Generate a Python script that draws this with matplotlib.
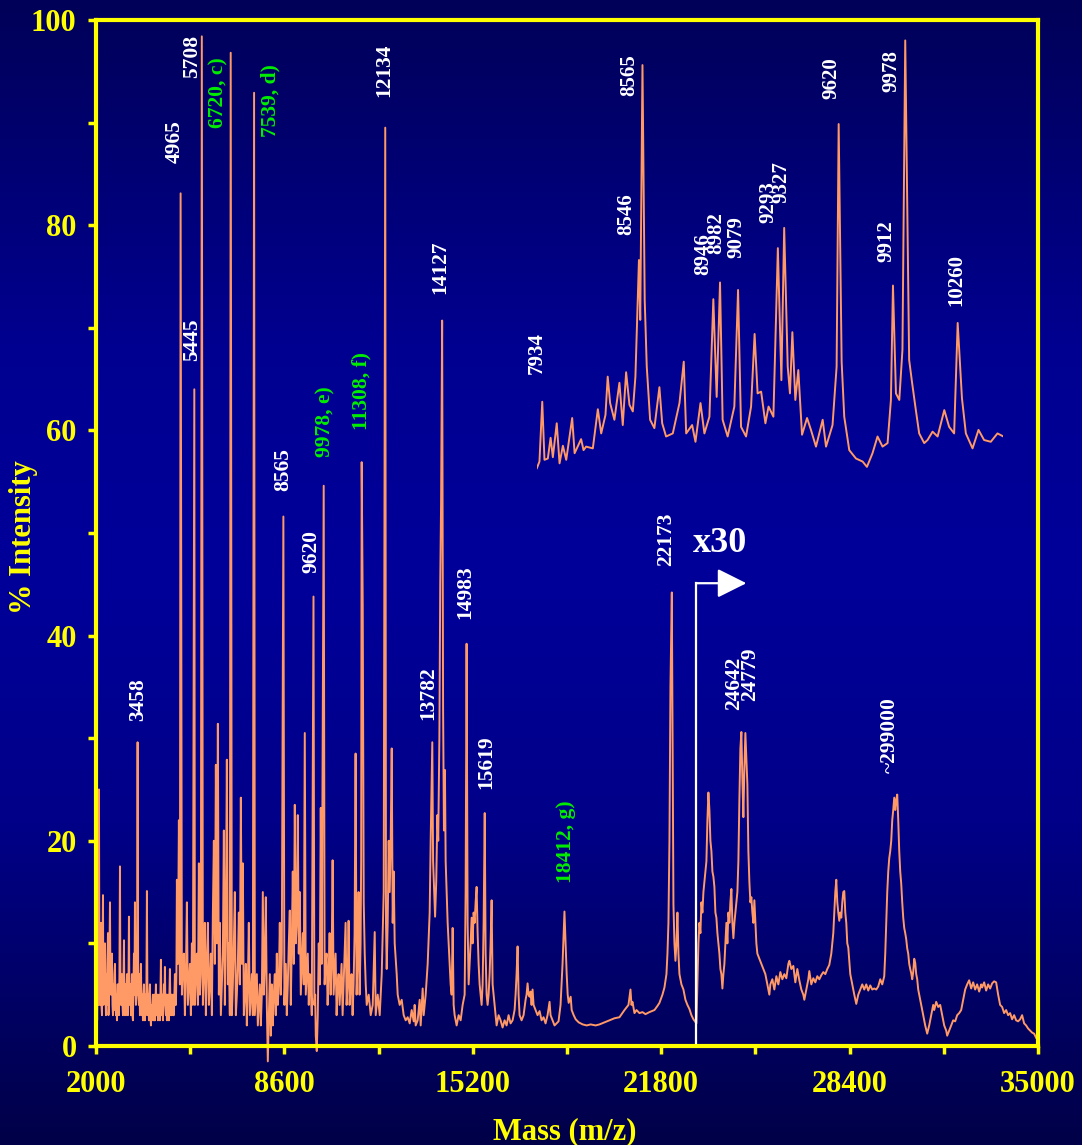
import numpy as np
import matplotlib
matplotlib.use("Agg")
import matplotlib.pyplot as plt
from matplotlib.colors import LinearSegmentedColormap

matplotlib.rc('font', family='Liberation Serif', weight='bold')

# ---- spectrum: (mass m/z, % intensity) ----
low_trace = [
    (2000, 3.5), (2020, 7), (2040, 2.5), (2055, 6), (2070, 9), (2090, 4), (2105, 25), (2120, 6),
    (2140, 4), (2158, 8), (2175, 12), (2192, 4), (2210, 3), (2228, 9), (2245, 14.7), (2262, 4),
    (2280, 5), (2298, 8), (2315, 10), (2332, 5), (2350, 3), (2368, 7), (2385, 4), (2402, 8),
    (2420, 11), (2438, 3), (2455, 4), (2472, 9), (2490, 14), (2508, 6), (2525, 5), (2542, 7),
    (2560, 9), (2578, 4), (2595, 3), (2612, 6), (2630, 3.5), (2648, 7), (2665, 8), (2682, 4),
    (2700, 3), (2718, 5), (2735, 2.5), (2752, 6), (2770, 6), (2788, 4), (2805, 3), (2822, 7),
    (2840, 17.5), (2858, 5), (2875, 4), (2892, 6), (2910, 7), (2928, 4), (2945, 3), (2962, 6),
    (2980, 10.3), (2998, 4), (3015, 3), (3032, 6), (3050, 3), (3068, 5), (3085, 7), (3102, 4),
    (3120, 3), (3138, 6), (3155, 12.6), (3172, 5), (3190, 4), (3208, 6), (3225, 3), (3242, 5),
    (3260, 7), (3278, 3), (3295, 2.5), (3312, 6), (3330, 9), (3348, 5), (3365, 14), (3382, 6),
    (3400, 4), (3418, 6), (3435, 5), (3458, 29.6), (3480, 5), (3505, 4), (3522, 7), (3540, 3),
    (3558, 6), (3575, 8), (3592, 4), (3610, 3), (3628, 5), (3645, 2.5), (3662, 5), (3680, 6),
    (3698, 3), (3715, 2.5), (3732, 5), (3750, 3), (3768, 6), (3785, 15.1), (3802, 5), (3820, 3),
    (3838, 5), (3855, 2.5), (3872, 5), (3890, 6), (3908, 3), (3925, 2), (3942, 4), (3960, 2.5),
    (3978, 4), (3995, 5), (4012, 3), (4030, 2.5), (4048, 5), (4065, 2.5), (4082, 4), (4100, 6),
    (4118, 3), (4135, 3), (4152, 5), (4170, 2.5), (4188, 4), (4205, 5), (4222, 3), (4240, 2.5),
    (4258, 5), (4275, 8.4), (4292, 4), (4310, 3), (4328, 5), (4345, 2.5), (4362, 4), (4380, 6),
    (4398, 4), (4415, 7.7), (4432, 4), (4450, 3), (4468, 5), (4485, 2.5), (4502, 4), (4520, 5),
    (4538, 3), (4555, 2.5), (4572, 5), (4590, 7.5), (4608, 4), (4625, 3), (4642, 5), (4660, 3),
    (4678, 4), (4695, 5), (4712, 3), (4730, 3), (4748, 5), (4765, 7), (4782, 4), (4800, 4),
    (4818, 7), (4835, 16.2), (4870, 8), (4905, 22), (4940, 6), (4965, 83.1), (5010, 5), (5045, 8),
    (5080, 9), (5115, 3), (5150, 7), (5185, 14), (5220, 4), (5255, 6), (5290, 8), (5325, 3),
    (5360, 10), (5395, 4), (5445, 64), (5465, 4), (5500, 7), (5535, 9), (5570, 4), (5605, 17.8),
    (5640, 5), (5675, 7), (5708, 98.4), (5745, 4), (5780, 7), (5815, 12), (5850, 3), (5885, 8),
    (5920, 12), (5955, 4), (5990, 6), (6025, 9), (6060, 3), (6095, 13), (6130, 20), (6165, 8),
    (6200, 27.4), (6235, 10), (6270, 31.4), (6305, 5), (6340, 12), (6375, 3), (6410, 6), (6445, 9),
    (6480, 21), (6515, 4), (6550, 12), (6585, 27.9), (6620, 6), (6655, 10), (6690, 3),
    (6720, 96.8), (6760, 3), (6795, 6), (6830, 10), (6865, 15), (6900, 3), (6935, 5), (6970, 8),
    (7005, 13), (7040, 6), (7075, 24.2), (7110, 8), (7145, 17.8), (7180, 3), (7215, 5), (7250, 8),
    (7285, 2), (7320, 6), (7355, 12), (7390, 3), (7425, 5), (7460, 7), (7495, 3), (7539, 92.9),
    (7565, 3), (7600, 5), (7635, 7), (7670, 2), (7705, 4), (7740, 6), (7775, 2), (7810, 5),
    (7845, 15), (7880, 5), (7915, 8), (7950, 14.5), (7985, 4), (8020, -1.5), (8055, 3), (8090, 7),
    (8125, 1), (8160, 6), (8195, 2), (8230, 5), (8265, 7), (8300, 3), (8335, 9), (8370, 4),
    (8405, 6), (8440, 12), (8475, 5), (8510, 9), (8565, 51.6), (8600, 4), (8650, 8), (8685, 3),
    (8720, 6), (8755, 10), (8790, 13.2), (8825, 4), (8860, 10), (8895, 17), (8930, 8), (8965, 23.5),
]

mid_trace = [
    (9000, 10), (9035, 12), (9070, 22.5), (9105, 9), (9140, 15), (9175, 5), (9210, 8), (9245, 11),
    (9280, 6), (9315, 30.5), (9350, 5), (9385, 7), (9420, 9), (9455, 4), (9490, 7), (9525, 6),
    (9560, 3), (9620, 43.8), (9650, 4), (9680, 5), (9700, 1), (9735, -0.5), (9770, 3), (9805, 10),
    (9840, 6), (9875, 23.2), (9910, 8), (9978, 54.6), (10010, 6), (10045, 8), (10080, 9),
    (10115, 4), (10150, 7), (10185, 11), (10220, 5), (10255, 8), (10290, 18.1), (10325, 5),
    (10360, 7), (10395, 9), (10430, 3), (10465, 6), (10500, 7), (10535, 4), (10570, 6), (10605, 8),
    (10640, 3), (10675, 6), (10710, 9), (10745, 12), (10780, 4), (10815, 6), (10850, 12.2),
    (10885, 4), (10920, 6), (10955, 7), (10990, 3), (11025, 6), (11060, 11), (11095, 28.5),
    (11130, 5), (11165, 8), (11200, 15), (11235, 5), (11270, 10), (11290, 18), (11308, 56.9),
    (11345, 43), (11380, 14), (11415, 9), (11450, 6), (11485, 4), (11555, 5), (11625, 3),
    (11695, 4), (11765, 11.1), (11800, 3), (11870, 5), (11940, 3), (12010, 7), (12080, 15),
    (12134, 89.5), (12160, 12), (12185, 7.5), (12220, 12), (12255, 20), (12290, 15), (12325, 20),
    (12360, 29), (12395, 12), (12430, 17), (12465, 10), (12535, 7), (12570, 5), (12640, 4),
    (12710, 4.5), (12780, 3), (12850, 2.5), (12920, 2.8), (12990, 2.2), (13060, 3.5), (13130, 2.4),
    (13165, 4), (13200, 2), (13270, 2.5), (13340, 4.5), (13375, 2), (13445, 5.6), (13480, 3),
    (13550, 5), (13620, 8), (13690, 13), (13725, 20), (13782, 29.6), (13810, 18), (13850, 15),
    (13880, 12.6), (13920, 16), (13960, 22.5), (13990, 20), (14030, 30), (14060, 45), (14090, 53),
    (14127, 70.7), (14160, 33), (14190, 21), (14225, 26.9), (14250, 18), (14285, 15), (14320, 12),
    (14355, 10), (14390, 8), (14425, 6), (14460, 5), (14495, 11.5), (14530, 4), (14565, 3),
    (14635, 2), (14705, 3), (14775, 2.5), (14845, 4), (14915, 5), (14950, 15), (14983, 39.2),
    (15020, 12), (15055, 6), (15090, 8), (15125, 10), (15160, 12.5), (15195, 10), (15230, 13),
    (15265, 12), (15300, 14), (15335, 15.5), (15370, 11), (15405, 8), (15440, 6), (15475, 5),
    (15510, 4), (15545, 6), (15580, 12), (15619, 22.7), (15650, 9), (15685, 5), (15720, 4),
    (15755, 5), (15790, 7), (15825, 10), (15860, 14.2), (15895, 6), (15930, 5), (15965, 4),
]

high_trace = [
    (16035, 2), (16105, 3), (16175, 2.5), (16245, 1.8), (16315, 2.5), (16385, 2), (16455, 3),
    (16525, 2.2), (16595, 2.5), (16665, 3.5), (16700, 5), (16735, 7), (16770, 9.7), (16805, 5),
    (16840, 3), (16910, 2.5), (16980, 3), (17050, 4.5), (17085, 5), (17120, 6.1), (17155, 5),
    (17190, 4.8), (17225, 5.3), (17260, 4), (17295, 5.5), (17330, 4), (17400, 3.5), (17470, 3),
    (17540, 3.4), (17610, 2.5), (17680, 2.8), (17750, 2.2), (17820, 3), (17890, 4.3), (17925, 3),
    (17995, 2.5), (18065, 2), (18135, 2.2), (18205, 2.4), (18275, 4), (18345, 8), (18412, 13.1),
    (18450, 10), (18490, 7), (18525, 5), (18560, 4.2), (18630, 4.8), (18665, 3.5), (18735, 3),
    (18805, 2.6), (18910, 2.3), (19050, 2.1), (19190, 2), (19330, 2.1), (19505, 2.0), (19640, 2.1),
    (19815, 2.3), (19990, 2.5), (20165, 2.7), (20340, 2.8), (20515, 3.5), (20655, 4), (20725, 5.5),
    (20760, 4), (20795, 4.3), (20865, 3.2), (20935, 3.5), (21040, 3.2), (21145, 3.3), (21250, 3.1),
    (21390, 3.3), (21565, 3.5), (21670, 3.9), (21740, 4.2), (21845, 5), (21915, 5.7), (21985, 7),
    (22020, 9), (22055, 12), (22090, 20), (22125, 35), (22173, 44.2), (22200, 30), (22230, 13.8),
    (22265, 10), (22300, 8.3), (22335, 10), (22370, 13), (22405, 9), (22440, 7), (22510, 6),
    (22580, 5.5), (22650, 4.5), (22720, 4), (22790, 3.6), (22860, 3), (22930, 2.6), (23035, 2.2),
]

# region shown magnified x30
scaled_trace = [
    (23105, 10), (23140, 12), (23175, 11), (23210, 14), (23245, 13), (23280, 15), (23315, 16),
    (23350, 17), (23385, 18), (23420, 22), (23455, 24.7), (23490, 23), (23525, 20), (23560, 19),
    (23595, 17), (23630, 16.5), (23665, 15.5), (23700, 13), (23735, 12.5), (23770, 11), (23805, 10),
    (23840, 9), (23875, 7.5), (23910, 7), (23945, 5.6), (23980, 7), (24015, 8), (24050, 10),
    (24085, 12), (24120, 10), (24155, 13), (24190, 12), (24225, 14), (24260, 15.3), (24295, 12),
    (24330, 10.5), (24365, 12), (24400, 13), (24435, 14), (24470, 15), (24505, 18), (24540, 24),
    (24575, 29), (24610, 30.6), (24645, 26), (24680, 22.3), (24715, 27), (24750, 30.5), (24785, 28),
    (24820, 25.5), (24855, 19), (24890, 16), (24925, 14), (24960, 14.5), (24995, 13), (25030, 12),
    (25065, 14.2), (25100, 12), (25135, 10), (25170, 9), (25240, 8.5), (25310, 8), (25380, 7.5),
    (25450, 7), (25520, 6), (25590, 5), (25625, 6), (25695, 6.5), (25765, 5.5), (25835, 6.8),
    (25905, 6), (25975, 7.2), (26045, 6.5), (26115, 7), (26185, 6.6), (26255, 8), (26290, 8.3),
    (26360, 7.5), (26430, 7.8), (26500, 6.2), (26570, 7.5), (26640, 6.4), (26710, 5.5), (26780, 5),
    (26815, 4.5), (26885, 5.5), (26955, 6.5), (26990, 7.3), (27060, 6), (27130, 6.6), (27200, 6.2),
    (27270, 6.8), (27340, 6.5), (27410, 6.9), (27480, 7.2), (27550, 7), (27620, 7.5), (27690, 7.9),
    (27760, 9), (27830, 11), (27865, 13), (27900, 15), (27935, 16.2), (27970, 14), (28005, 13),
    (28040, 12.2), (28075, 13), (28110, 12.5), (28145, 14), (28180, 15), (28215, 15.1), (28250, 13),
    (28285, 12), (28320, 10), (28355, 9.6), (28425, 7), (28495, 6), (28565, 5), (28635, 4.1),
    (28705, 5), (28775, 5.5), (28845, 6), (28915, 5.5), (28985, 6), (29055, 5.4), (29125, 5.9),
    (29195, 5.5), (29265, 5.6), (29335, 5.5), (29405, 5.8), (29475, 6.5), (29545, 6), (29615, 6.8),
    (29650, 9), (29685, 12), (29720, 15), (29755, 17), (29790, 18.3), (29825, 19), (29860, 20),
    (29895, 22), (29930, 23), (29965, 24.2), (30000, 23), (30035, 24), (30070, 24.5), (30105, 22),
    (30140, 19), (30175, 17), (30210, 15.8), (30245, 14), (30280, 12.5), (30315, 11.5), (30350, 11),
    (30385, 10.4), (30420, 9.5), (30455, 9), (30490, 8), (30525, 7.5), (30560, 7.1), (30595, 6.5),
    (30630, 7.2), (30665, 8.5), (30700, 8.1), (30735, 7), (30770, 6.5), (30805, 5.5), (30840, 5),
    (30910, 4), (30980, 3), (31050, 2), (31120, 1.2), (31190, 2), (31260, 3), (31330, 4),
    (31365, 3.5), (31435, 4.3), (31505, 3.8), (31575, 4), (31645, 3), (31715, 2), (31785, 1.5),
    (31820, 1), (31890, 1.5), (31960, 2), (32030, 2.5), (32100, 2.4), (32170, 3), (32240, 3.2),
    (32310, 3.5), (32380, 4.5), (32450, 5.5), (32520, 6), (32590, 6.4), (32660, 5.6), (32730, 6.2),
    (32800, 5.5), (32870, 6), (32940, 5.3), (33010, 6), (33045, 5.7), (33115, 6.2), (33185, 5.4),
    (33255, 6), (33325, 5.6), (33395, 6.1), (33465, 6.3), (33535, 6.2), (33605, 5), (33675, 4),
    (33745, 3.8), (33815, 3.2), (33885, 3.5), (33955, 3), (34025, 3.2), (34095, 2.6), (34165, 3),
    (34235, 2.5), (34305, 2.4), (34375, 2.6), (34445, 3), (34515, 2.2), (34585, 2), (34655, 1.7),
    (34725, 1.5), (34795, 1.3), (34865, 1.2), (34935, 0.8),
]

# inset: 7900-10500 region enlarged (relative intensity 0-100)
inset_trace = [
    (7997, 0.4), (8011, 1.9), (8026, 15.5), (8038, 2.3), (8056, 2.6), (8071, 7.3), (8083, 2.9),
    (8104, 10.6), (8119, 1.5), (8137, 5.5), (8155, 2.3), (8187, 11.8), (8200, 3.8), (8235, 7.0),
    (8248, 4.5), (8262, 5.3), (8298, 4.9), (8325, 13.8), (8343, 8.3), (8366, 12.5), (8378, 21.2),
    (8391, 15.2), (8414, 11.4), (8441, 19.8), (8459, 10.2), (8477, 22.2), (8495, 14.8), (8513, 13.3),
    (8527, 21.2), (8546, 47.7), (8553, 34.1), (8565, 92.0), (8577, 38.6), (8588, 23.5), (8606, 11.4),
    (8629, 9.5), (8656, 18.8), (8671, 10.6), (8692, 7.6), (8728, 8.3), (8764, 15.2), (8787, 24.6),
    (8800, 8.3), (8832, 10.2), (8850, 6.4), (8877, 15.2), (8898, 8.3), (8925, 12.1), (8946, 38.8),
    (8964, 16.6), (8982, 42.6), (8996, 11.4), (9023, 7.6), (9059, 14.4), (9079, 40.9), (9095, 9.8),
    (9122, 7.6), (9149, 14.4), (9168, 30.9), (9184, 17.4), (9203, 17.8), (9226, 10.6), (9243, 14.4),
    (9269, 12.1), (9293, 50.4), (9312, 20.4), (9327, 55.0), (9346, 23.5), (9358, 17.4), (9371, 31.3),
    (9387, 15.9), (9403, 22.7), (9423, 8.0), (9450, 11.8), (9471, 9.1), (9498, 5.3), (9534, 11.4),
    (9552, 5.3), (9587, 10.2), (9609, 23.5), (9620, 78.6), (9636, 24.6), (9650, 12.1), (9677, 4.5),
    (9713, 2.6), (9749, 1.9), (9772, 0.7), (9802, 3.8), (9829, 7.6), (9856, 5.3), (9883, 6.1),
    (9901, 15.9), (9912, 41.9), (9928, 17.4), (9946, 15.9), (9963, 27.3), (9978, 97.6), (9999, 25.0),
    (10014, 20.1), (10035, 13.6), (10053, 8.3), (10080, 6.1), (10098, 6.8), (10125, 8.7), (10152, 7.6),
    (10188, 13.6), (10214, 9.8), (10241, 8.3), (10260, 33.4), (10283, 16.3), (10304, 8.3),
    (10340, 4.9), (10372, 9.1), (10402, 6.8), (10438, 6.4), (10474, 8.3), (10506, 7.6),
]

# peak annotations: text, anchor mass, anchor intensity, assigned (green) or not
main_labels = ["3458", "4965", "5445", "5708", "6720, c)", "7539, d)", "8565", "9620",
               "9978, e)", "11308, f)", "12134", "13782", "14127", "14983", "15619",
               "18412, g)", "22173", "24642", "24779", "~299000"]
main_label_x = [3470, 4765, 5360, 5360, 6305, 8125, 8545, 9560, 10050, 11310, 12115, 13655,
                14075, 14950, 15685, 18450, 21985, 24365, 24925, 29825]
main_label_y = [31.7, 86.1, 66.8, 94.3, 89.5, 88.6, 54.1, 46.1, 57.4, 60.0, 92.5, 31.8,
                73.3, 41.6, 25.0, 15.9, 46.8, 32.7, 33.6, 26.6]
main_label_assigned = [False, False, False, False, True, True, False, False, True, True,
                       False, False, False, False, False, True, False, False, False, False]

inset_labels = ["7934", "8546", "8565", "8946", "8982", "9079", "9293", "9327", "9620",
                "9912", "9978", "10260"]
inset_label_x = [7995, 8479, 8495, 8893, 8963, 9070, 9242, 9312, 9580, 9876, 9903, 10252]
inset_label_y = [21.8, 53.4, 85.0, 44.3, 49.1, 48.2, 56.1, 60.7, 84.3, 47.3, 85.9, 37.3]

x_ticks = [2000, 8600, 15200, 21800, 28400, 35000]
y_ticks = [0, 20, 40, 60, 80, 100]
scale_start = 23035      # where the x30 magnification starts
scale_arrow_y = 45.1

YELLOW = "#ffff00"
TRACE = "#ff9966"
GREEN = "#00ee00"

fig = plt.figure(figsize=(10.82, 11.45), dpi=100)

# background gradient
bg = fig.add_axes([0, 0, 1, 1], zorder=0)
cmap = LinearSegmentedColormap.from_list(
    "bg", [(0, "#000058"), (0.3, "#000090"), (0.5, "#00009a"), (0.72, "#000088"), (1, "#000048")])
bg.imshow(np.linspace(0, 1, 256).reshape(-1, 1), cmap=cmap, aspect="auto", extent=[0, 1, 0, 1])
bg.axis("off")

ax = fig.add_axes([0.0887, 0.0865, 0.8706, 0.8961], zorder=1)
ax.patch.set_alpha(0)

trace = low_trace + mid_trace + high_trace + scaled_trace
mz, inten = zip(*trace)
ax.plot(mz, inten, color=TRACE, lw=1.4, clip_on=False)

ax.set_xlim(2000, 35000)
ax.set_ylim(0, 100)
ax.set_xticks(x_ticks)
ax.set_xticks([(a + b) / 2 for a, b in zip(x_ticks[:-1], x_ticks[1:])], minor=True)
ax.set_yticks(y_ticks)
ax.set_yticks([(a + b) / 2 for a, b in zip(y_ticks[:-1], y_ticks[1:])], minor=True)
for s in ax.spines.values():
    s.set_color(YELLOW)
    s.set_linewidth(3)
ax.tick_params(which="both", colors=YELLOW, width=2.5, length=6, direction="out",
               labelsize=22)
ax.tick_params(axis="x", pad=11)
ax.tick_params(axis="y", pad=8)

fig.text(0.522, 0.005, "Mass (m/z)", color=YELLOW, fontsize=22, ha="center", va="baseline")
fig.text(0.022, 0.531, "% Intensity", color=YELLOW, fontsize=22, rotation=90,
         ha="center", va="center")

for txt, x, y, assigned in zip(main_labels, main_label_x, main_label_y, main_label_assigned):
    ax.text(x, y, txt, rotation=90, ha="center", va="bottom", fontsize=15.5,
            color=GREEN if assigned else "white")

# x30 marker
ax.plot([scale_start, scale_start], [0, scale_arrow_y], color="white", lw=1.6)
ax.annotate("", xy=(24785, scale_arrow_y), xytext=(scale_start, scale_arrow_y),
            arrowprops=dict(arrowstyle="-|>,head_length=1.0,head_width=0.5",
                            color="white", lw=1.6, mutation_scale=18,
                            shrinkA=0, shrinkB=0))
ax.text(23875, 48.1, "x30", color="white", fontsize=26, ha="center", va="baseline")

# inset
ins = ax.inset_axes([17445, 56.14, 33790 - 17445, 99.03 - 56.14], transform=ax.transData)
ins.patch.set_alpha(0)
ins.axis("off")
im, ii = zip(*inset_trace)
ins.plot(im, ii, color=TRACE, lw=1.4)
ins.set_xlim(7997, 10506)
ins.set_ylim(0, 100)
for txt, x, y in zip(inset_labels, inset_label_x, inset_label_y):
    ins.text(x, y, txt, rotation=90, ha="center", va="bottom", fontsize=15,
             color="white", clip_on=False)

fig.savefig("out.png", dpi=100)
